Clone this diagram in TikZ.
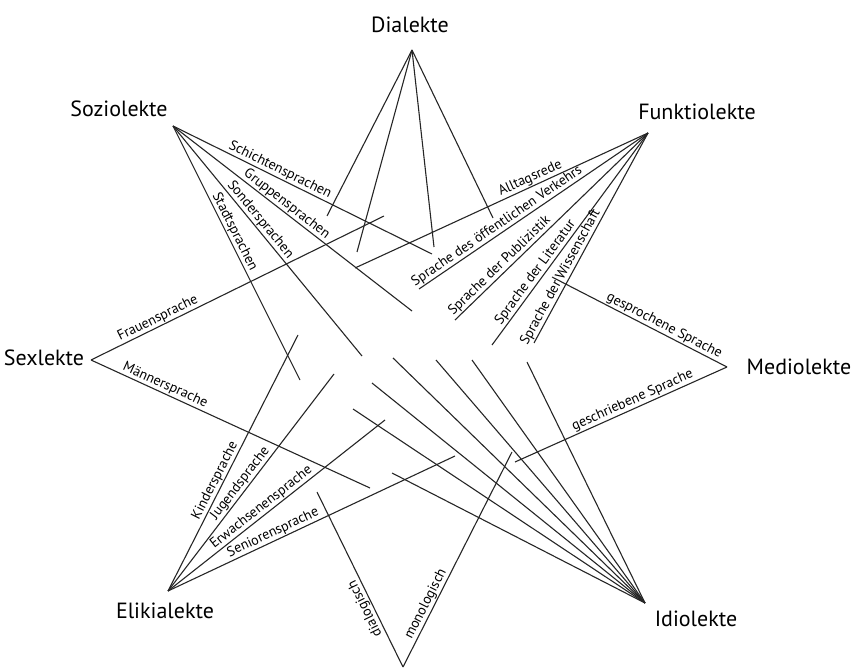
\documentclass[tikz,border=0pt]{standalone}
\usepackage{fontspec}
\setmainfont{PT Sans}
\begin{document}
\begin{tikzpicture}[x=1pt,y=-1pt,
  ln/.style={draw=black!85, line width=1.1pt},
  lab/.style={font=\fontsize{14}{15}\selectfont, sloped, above, inner sep=1pt},
  big/.style={font=\fontsize{22}{24}\selectfont, inner sep=0pt}]
\useasboundingbox (0,0) rectangle (855,671);
% apexes
\coordinate (D) at (412,50);
\coordinate (S) at (173,126);
\coordinate (F) at (648,133);
\coordinate (X) at (91,360);
\coordinate (M) at (727,367);
\coordinate (E) at (168,591);
\coordinate (I) at (645,603);
\coordinate (B) at (403,667);
% apex labels
\node[big] (tD) at (410,25) {Dialekte};
\node[big] (tS) at (119,109) {Soziolekte};
\node[big] (tF) at (697,112) {Funktiolekte};
\node[big] (tX) at (44,358) {Sexlekte};
\node[big] (tM) at (799,367) {Mediolekte};
\node[big] (tE) at (165,611) {Elikialekte};
\node[big] (tI) at (696,619) {Idiolekte};
% line ends
\coordinate (d1) at (327,216);
\coordinate (d2) at (357,252);
\coordinate (d3) at (434,247);
\coordinate (d4) at (493,218);
\coordinate (s1) at (432,254);
\coordinate (s2) at (412,311);
\coordinate (s3) at (362,356);
\coordinate (s4) at (300,380);
\coordinate (f1) at (355,268);
\coordinate (f2) at (419,289);
\coordinate (f3) at (455,320);
\coordinate (f4) at (492,345);
\coordinate (f5) at (534,343);
\coordinate (x1) at (384,216);
\coordinate (x2) at (370,488);
\coordinate (m1) at (552,277);
\coordinate (m2) at (515,462);
\coordinate (e1) at (298,335);
\coordinate (e2) at (334,374);
\coordinate (e3) at (385,420);
\coordinate (e4) at (455,456);
\coordinate (b1) at (317,492);
\coordinate (b2) at (512,452);
\coordinate (i1) at (393,358);
\coordinate (i2) at (436,360);
\coordinate (i3) at (472,360);
\coordinate (i4) at (527,362);
\coordinate (i5) at (372,383);
\coordinate (i6) at (353,409);
\coordinate (i7) at (392,473);
% Dialekte
\foreach \p in {d1,d2,d3,d4} \draw[ln] (D) -- (\p);
% Soziolekte
\draw[ln] (S) -- node[lab,pos=0.40] {Schichtensprachen} (s1);
\draw[ln] (S) -- node[lab,pos=0.456] {Gruppensprachen} (s2);
\draw[ln] (S) -- node[lab,pos=0.43] {Sondersprachen} (s3);
\draw[ln] (S) -- node[lab,pos=0.43] {Stadtsprachen} (s4);
% Funktiolekte
\draw[ln] (f1) -- node[lab,pos=0.61] {Alltagsrede} (F);
\draw[ln] (f2) -- node[lab,pos=0.36] {Sprache des öffentlichen Verkehrs} (F);
\draw[ln] (f3) -- node[lab,pos=0.26] {Sprache der Publizistik} (F);
\draw[ln] (f4) -- node[lab,pos=0.32] {Sprache der Literatur} (F);
\draw[ln] (f5) -- node[lab,pos=0.295] {Sprache der Wissenschaft} (F);
% Sexlekte
\draw[ln] (X) -- node[lab,pos=0.24] {Frauensprache} (x1);
\draw[ln] (X) -- node[lab,pos=0.254] {Männersprache} (x2);
% Mediolekte
\draw[ln] (m1) -- node[lab,pos=0.62] {gesprochene Sprache} (M);
\draw[ln] (m2) -- node[lab,pos=0.57] {geschriebene Sprache} (M);
% Elikialekte
\draw[ln] (E) -- node[lab,pos=0.417] {Kindersprache} (e1);
\draw[ln] (E) -- node[lab,pos=0.474] {Jugendsprache} (e2);
\draw[ln] (E) -- node[lab,pos=0.453] {Erwachsenensprache} (e3);
\draw[ln] (E) -- node[lab,pos=0.378] {Seniorensprache} (e4);
% bottom
\draw[ln] (B) -- node[lab,allow upside down,pos=0.355] {dialogisch} (b1);
\draw[ln] (B) -- node[lab,pos=0.276] {monologisch} (b2);
% Idiolekte
\foreach \p in {i1,i2,i3,i4,i5,i6,i7} \draw[ln] (I) -- (\p);
\end{tikzpicture}
\end{document}
